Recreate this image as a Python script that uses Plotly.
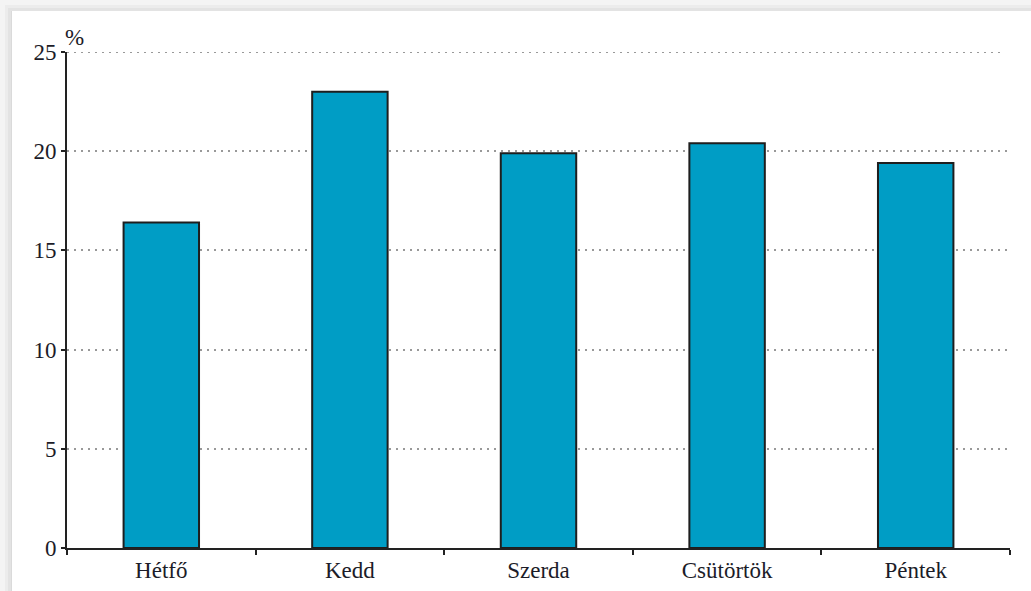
import plotly.graph_objects as go

days = ["Hétfő", "Kedd", "Szerda", "Csütörtök", "Péntek"]
values = [16.4, 23.0, 19.9, 20.4, 19.4]
y_ticks = [0, 5, 10, 15, 20, 25]

FONT = "Liberation Serif, Times New Roman, serif"
TXT = "#1c1c28"
FS = 23

fig = go.Figure()
fig.add_trace(go.Bar(
    x=days, y=values, width=0.4,
    marker=dict(color="#009DC5", line=dict(color="#1e1e1e", width=2)),
))

W, H = 1031, 591
L, R, T, B = 67, 21, 52, 43
pw, ph = W - L - R, H - T - B

def px_x(x):
    return (x - L) / pw

def px_y(y):
    return (H - B - y) / ph

shapes = []
shapes.append(dict(type="rect", xref="paper", yref="paper", layer="below",
                   x0=px_x(0), x1=px_x(W), y0=px_y(H), y1=px_y(0),
                   fillcolor="#f6f6f6", line=dict(width=0)))
# soft grey frame (screenshot shadow) on top and left
greys = ["#dadada", "#e3e3e3", "#ececec", "#f4f4f4"]
for i, g in enumerate(greys):
    shapes.append(dict(type="rect", xref="paper", yref="paper", layer="below",
                       x0=px_x(0), x1=px_x(W), y0=px_y(14 - i * 3), y1=px_y(0),
                       fillcolor=g, line=dict(width=0)))
    shapes.append(dict(type="rect", xref="paper", yref="paper", layer="below",
                       x0=px_x(0), x1=px_x(14 - i * 3), y0=px_y(H), y1=px_y(0),
                       fillcolor=g, line=dict(width=0)))
shapes.append(dict(type="rect", xref="paper", yref="paper", layer="below",
                   x0=px_x(12), x1=px_x(W), y0=px_y(H), y1=px_y(11),
                   fillcolor="white", line=dict(width=0)))
# top gridline at 25 (plotly omits grid at the range edge)
shapes.append(dict(type="line", xref="paper", yref="y", x0=0, x1=px_x(1005),
                   y0=25, y1=25, layer="below",
                   line=dict(color="#999999", width=2, dash="2px,5px")))

fig.update_layout(
    width=W, height=H,
    margin=dict(l=L, r=R, t=T, b=B, autoexpand=False),
    paper_bgcolor="white", plot_bgcolor="rgba(0,0,0,0)",
    showlegend=False,
    font=dict(family=FONT, size=FS, color=TXT),
    shapes=shapes,
    xaxis=dict(
        type="category", tickson="boundaries", ticks="outside", ticklen=5,
        tickwidth=2, tickcolor="#222", showline=True, linecolor="#222",
        linewidth=2, showgrid=False, range=[-0.5, 4.5], automargin=False,
        tickfont=dict(family=FONT, size=FS, color=TXT),
    ),
    yaxis=dict(
        range=[0, 25], tickvals=y_ticks, ticks="outside", ticklen=4,
        tickwidth=2, tickcolor="#222", showline=True, linecolor="#222",
        linewidth=2, showgrid=True, gridcolor="#999999", griddash="2px,5px",
        gridwidth=2, zeroline=False, automargin=False,
        tickfont=dict(family=FONT, size=FS, color=TXT),
    ),
    annotations=[dict(text="%", xref="paper", yref="paper", x=px_x(63),
                      y=px_y(38), xanchor="left", yanchor="middle",
                      showarrow=False,
                      font=dict(family=FONT, size=FS, color=TXT))],
)

fig.write_html("out.html")
